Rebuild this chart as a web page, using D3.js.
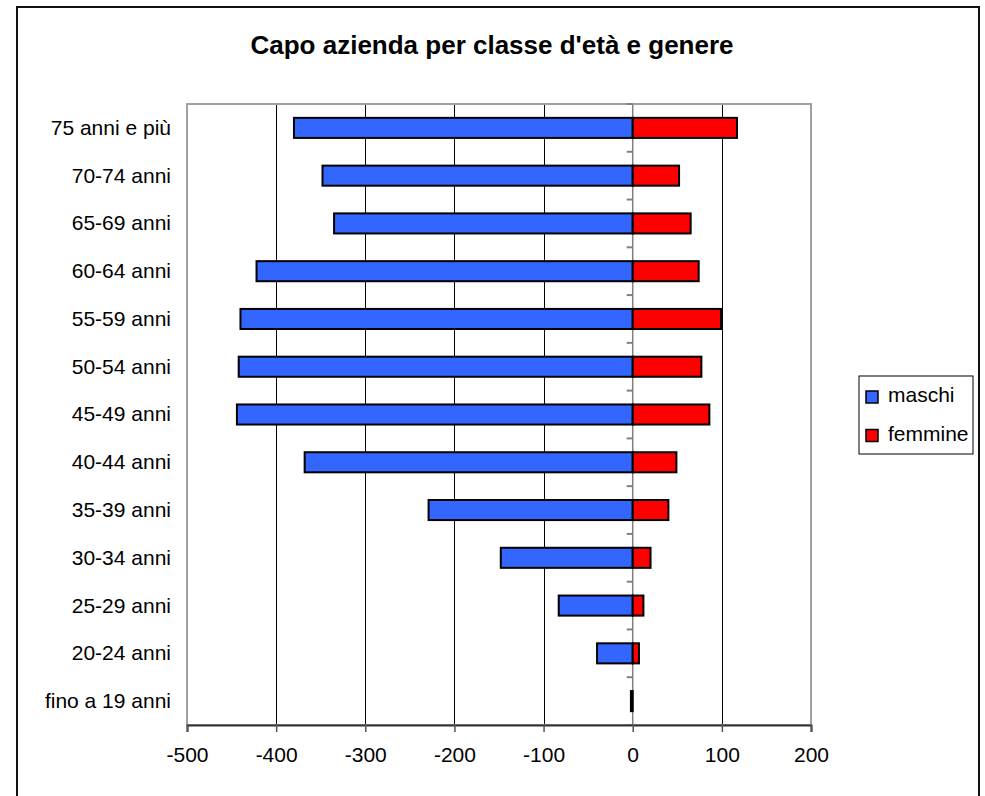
<!DOCTYPE html>
<html>
<head>
<meta charset="utf-8">
<script src="https://cdn.jsdelivr.net/npm/d3@7"></script>
<style>
  body { margin: 0; background: #fff; }
  text { font-family: "Liberation Sans", Arial, sans-serif; }
</style>
</head>
<body>
<div id="plotspace"></div>
<script>
var categories = ["75 anni e più", "70-74 anni", "65-69 anni", "60-64 anni", "55-59 anni",
    "50-54 anni", "45-49 anni", "40-44 anni", "35-39 anni", "30-34 anni",
    "25-29 anni", "20-24 anni", "fino a 19 anni"];
var maschi = [-380, -348, -335, -422, -440, -442, -444, -368, -229, -148, -83, -40, -2];
var femmine = [117, 52, 65, 74, 99, 77, 86, 49, 40, 20, 12, 7, 0];
var xTicks = [-500, -400, -300, -200, -100, 0, 100, 200];
var seriesNames = ["maschi", "femmine"];
var seriesColors = ["#3366ff", "#ff0000"];

var Chart = (function() {

    var width = 985;
    var height = 796;
    var left = 187, right = 811, top = 104, bottom = 725;

    var draw = function() {
        var svg = d3.select("#plotspace").
            append("svg:svg").
            attr("width", width).
            attr("height", height);

        // outer frame
        svg.append("rect").
            attr("x", 17).attr("y", 7).
            attr("width", 962).attr("height", 800).
            attr("fill", "#fff").
            attr("stroke", "#111").
            attr("stroke-width", 2);

        svg.append("text").
            attr("x", 492).
            attr("y", 54).
            attr("text-anchor", "middle").
            attr("font-size", 26).
            attr("font-weight", "bold").
            text("Capo azienda per classe d'età e genere");

        var x = d3.scaleLinear().domain([-500, 200]).range([left, right]);
        var y = d3.scaleBand().domain(categories).range([top, bottom]).
            paddingInner(0.58).paddingOuter(0.29);

        // gridlines
        svg.selectAll("line.grid").
            data(xTicks.filter(function(d) { return d !== 0 && d !== -500 && d !== 200; })).
            enter().append("line").
            attr("class", "grid").
            attr("x1", function(d) { return Math.round(x(d)) + 0.5; }).
            attr("x2", function(d) { return Math.round(x(d)) + 0.5; }).
            attr("y1", top).
            attr("y2", bottom).
            attr("stroke", "#000").
            attr("stroke-width", 1).
            attr("shape-rendering", "crispEdges");

        // plot area border
        svg.append("rect").
            attr("x", left).attr("y", top).
            attr("width", right - left).attr("height", bottom - top).
            attr("fill", "none").
            attr("stroke", "#a0a0a0").
            attr("stroke-width", 2);

        // zero axis with category ticks
        var step = y.step();
        var bounds = d3.range(categories.length + 1).map(function(i) { return top + i * step; });
        svg.selectAll("line.ctick").
            data(bounds).
            enter().append("line").
            attr("class", "ctick").
            attr("x1", x(0) - 6).
            attr("x2", x(0)).
            attr("y1", function(d) { return d; }).
            attr("y2", function(d) { return d; }).
            attr("stroke", "#808080").
            attr("stroke-width", 2);
        svg.append("line").
            attr("x1", x(0)).attr("x2", x(0)).
            attr("y1", top).attr("y2", bottom).
            attr("stroke", "#808080").
            attr("stroke-width", 1.5);

        // bars
        var rows = categories.map(function(c, i) { return {cat: c, m: maschi[i], f: femmine[i]}; });
        svg.selectAll("rect.maschi").
            data(rows).
            enter().append("rect").
            attr("class", "maschi").
            attr("x", function(d) { return x(d.m); }).
            attr("y", function(d) { return y(d.cat); }).
            attr("width", function(d) { return x(0) - x(d.m); }).
            attr("height", y.bandwidth()).
            attr("fill", seriesColors[0]).
            attr("stroke", "#000").
            attr("stroke-width", 2);
        svg.selectAll("rect.femmine").
            data(rows.filter(function(d) { return d.f > 0; })).
            enter().append("rect").
            attr("class", "femmine").
            attr("x", x(0)).
            attr("y", function(d) { return y(d.cat); }).
            attr("width", function(d) { return x(d.f) - x(0); }).
            attr("height", y.bandwidth()).
            attr("fill", seriesColors[1]).
            attr("stroke", "#000").
            attr("stroke-width", 2);

        // category labels
        svg.selectAll("text.cat").
            data(categories).
            enter().append("text").
            attr("class", "cat").
            attr("x", 171).
            attr("y", function(d) { return y(d) + y.bandwidth() / 2; }).
            attr("dy", "0.33em").
            attr("text-anchor", "end").
            attr("font-size", 21).
            attr("fill", "#000").
            text(function(d) { return d; });

        // value axis
        var axis = d3.axisBottom(x).tickValues(xTicks).tickSize(7).tickPadding(15).
            tickFormat(function(d) { return String(d); });
        var g = svg.append("g").
            attr("transform", "translate(0," + bottom + ")").
            call(axis);
        g.select(".domain").attr("stroke", "#333").attr("stroke-width", 2);
        g.selectAll(".tick line").attr("stroke", "#555").attr("stroke-width", 1.5);
        g.selectAll(".tick text").
            attr("font-size", 21).
            attr("font-family", "Liberation Sans, Arial, sans-serif").
            attr("fill", "#000");

        // legend
        svg.append("rect").
            attr("x", 859).attr("y", 376).
            attr("width", 114).attr("height", 78).
            attr("fill", "#fff").
            attr("stroke", "#000").
            attr("stroke-width", 1);
        var leg = svg.selectAll("g.leg").
            data(seriesNames).
            enter().append("g").
            attr("class", "leg").
            attr("transform", function(d, i) { return "translate(866," + (391 + i * 38.5) + ")"; });
        leg.append("rect").
            attr("width", 12).attr("height", 12).
            attr("fill", function(d, i) { return seriesColors[i]; }).
            attr("stroke", "#000").
            attr("stroke-width", 1.5);
        leg.append("text").
            attr("x", 22).
            attr("y", 11).
            attr("font-size", 21).
            text(function(d) { return d; });
    };

    return { init: draw };
}());

Chart.init();
</script>
</body>
</html>
